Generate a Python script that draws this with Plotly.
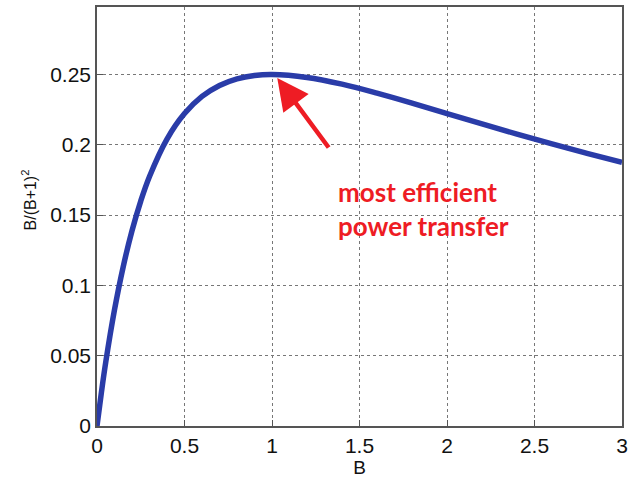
import plotly.graph_objects as go

B_vals = [0, 0.025, 0.05, 0.1, 0.15, 0.2, 0.25, 0.3, 0.4, 0.5, 0.6, 0.7, 0.8, 0.9, 1.0,
          1.2, 1.4, 1.6, 1.8, 2.0, 2.2, 2.4, 2.6, 2.8, 3.0]
P_vals = [0, 0.0238, 0.0454, 0.0826, 0.1134, 0.1389, 0.16, 0.1775, 0.2041, 0.2222, 0.2344,
          0.2422, 0.2469, 0.2493, 0.25, 0.2479, 0.2431, 0.2367, 0.2296, 0.2222, 0.2148,
          0.2076, 0.2006, 0.1939, 0.1875]
x_ticks = [0, 0.5, 1, 1.5, 2, 2.5, 3]
x_labels = ["0", "0.5", "1", "1.5", "2", "2.5", "3"]
y_ticks = [0, 0.05, 0.1, 0.15, 0.2, 0.25]
y_labels = ["0", "0.05", "0.1", "0.15", "0.2", "0.25"]
y_title = "B/(B+1)<sup>2</sup>"
note = "most efficient<br>power transfer"
peak = (1.03, 0.2475)
arrow_tail = (1.33, 0.197)

fig = go.Figure()
fig.add_trace(go.Scatter(x=B_vals, y=P_vals, mode="lines", line_shape="spline",
                         line=dict(color="#2a3ca8", width=5.5), hoverinfo="skip"))

tfont = dict(family="Liberation Sans, Arial, sans-serif", size=21, color="#111111")
axis_common = dict(showline=True, linecolor="#555555", linewidth=1.5, mirror=True,
                   showgrid=True, gridcolor="#777777", griddash="dot", gridwidth=1,
                   ticks="inside", ticklen=6, tickcolor="#555555", zeroline=False,
                   tickfont=tfont)
fig.update_xaxes(range=[0, 3], tickvals=x_ticks, ticktext=x_labels,
                 title=dict(text="B", font=dict(family="Liberation Sans, Arial", size=19, color="#111111"), standoff=2),
                 **axis_common)
fig.update_yaxes(range=[0, 0.298], tickvals=y_ticks, ticktext=y_labels, **axis_common)

fig.add_annotation(x=-0.13, y=0.54, xref="paper", yref="paper", text=y_title, textangle=-90,
                   showarrow=False, xanchor="center", yanchor="middle",
                   font=dict(family="Liberation Sans, Arial", size=16, color="#111111"))

fig.add_annotation(x=peak[0], y=peak[1], ax=arrow_tail[0], ay=arrow_tail[1],
                   xref="x", yref="y", axref="x", ayref="y", text="",
                   showarrow=True, arrowhead=2, arrowsize=1.4, arrowwidth=4.5, arrowcolor="#ee1c24")
fig.add_annotation(x=1.365, y=0.1545, xref="x", yref="y", xanchor="left", text=note, showarrow=False,
                   align="left", font=dict(family="Lato, Open Sans, sans-serif", size=26, color="#ee1c24", weight="bold"))

fig.update_layout(width=633, height=482, margin=dict(l=97, r=5, t=5, b=56),
                  paper_bgcolor="white", plot_bgcolor="white", showlegend=False)
fig.write_html("out.html")
